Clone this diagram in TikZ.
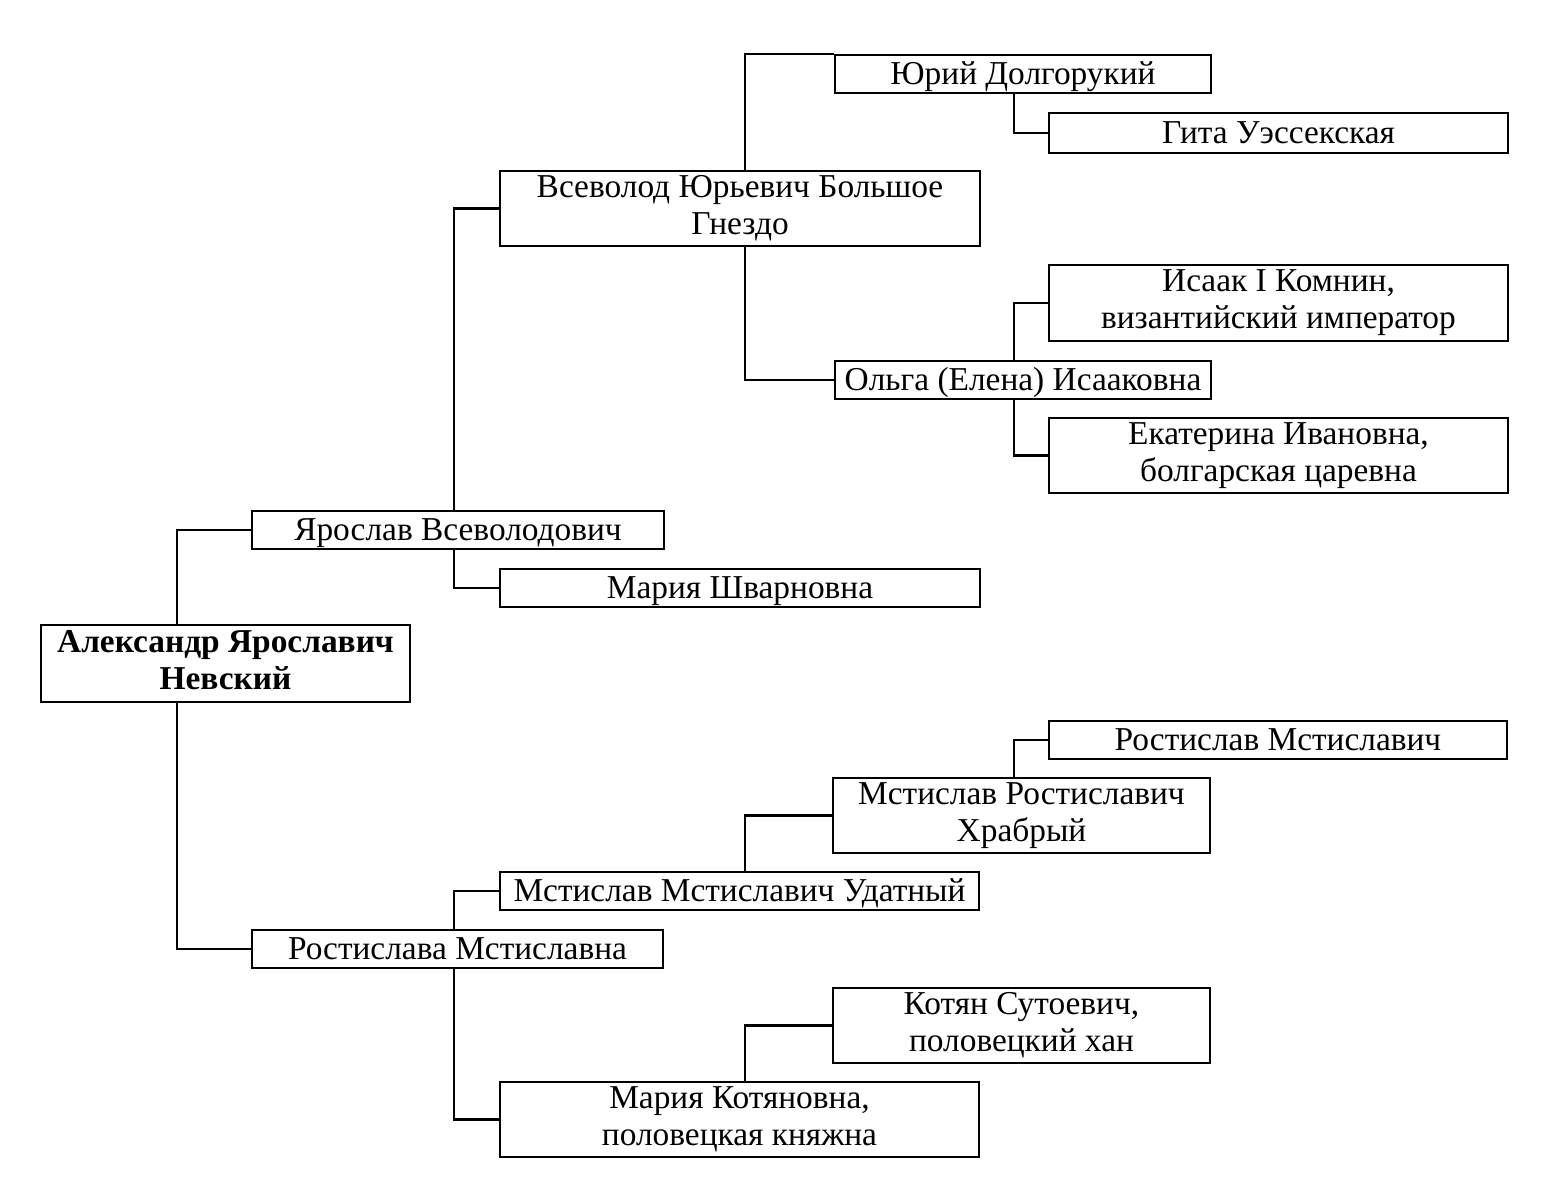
\documentclass[tikz,border=0pt]{standalone}
\usepackage{fontspec}
\setmainfont{Liberation Serif}

\tikzset{
  person/.style={draw, line width=1.3pt, inner sep=0pt, align=center,
    font=\fontsize{19}{21}\selectfont,
    execute at begin node={\rule{0pt}{16.7pt}},
    execute at end node={\rule[-4.2pt]{0pt}{0pt}}},
  link/.style={line width=1.3pt},
}

\NewDocumentCommand{\person}{O{}mmmmmm}{%
\node[person, #1, minimum width={#5*0.02cm}, minimum height={#6*0.02cm}] (#2) at (#3,#4) {#7};%
}

\begin{document}
\begin{tikzpicture}[x=0.02cm, y=-0.02cm]
        \useasboundingbox (0,0) rectangle (1553,1200);

        % Columns of the connectors.
        \coordinate (c0) at (177,0);
        \coordinate (c1) at (454,0);
        \coordinate (c2) at (745,0);
        \coordinate (c3) at (1014,0);

        % Alexander and his parents.
        \person[font=\fontsize{19}{21}\selectfont\bfseries]{alexander}{225.5}{663.5}{369}{77}{Александр Ярославич\\Невский}
        \person{yaroslav}{458}{530}{412}{38}{Ярослав Всеволодович}
        \person{rostislava}{457.5}{949}{411}{38}{Ростислава Мстиславна}

        % Father's side.
        \person{vsevolod}{740}{208.5}{480}{75}{Всеволод Юрьевич Большое\\Гнездо}
        \person{mariash}{740}{588}{480}{38}{Мария Шварновна}
        \person{yuri}{1023}{74}{376}{38}{Юрий Долгорукий}
        \person{olga}{1023}{380}{376}{38}{Ольга (Елена) Исааковна}
        \person{gita}{1278.5}{133}{459}{40}{Гита Уэссекская}
        \person{isaak}{1278.5}{303}{459}{76}{Исаак I Комнин,\\византийский император}
        \person{ekaterina}{1278.5}{455.5}{459}{75}{Екатерина Ивановна,\\болгарская царевна}

        % Mother's side.
        \person{udatny}{739.5}{891}{479}{38}{Мстислав Мстиславич Удатный}
        \person{mariak}{739.5}{1119.5}{479}{75}{Мария Котяновна,\\половецкая княжна}
        \person{mstislavr}{1021.5}{815.5}{377}{75}{Мстислав Ростиславич\\Храбрый}
        \person{kotyan}{1021.5}{1025.5}{377}{75}{Котян Сутоевич,\\половецкий хан}
        \person{rostislav}{1278}{740}{458}{38}{Ростислав Мстиславич}

        % Connectors.
        \draw[link] (alexander.north -| c0) |- (yaroslav.west);
        \draw[link] (alexander.south -| c0) |- (rostislava.west);
        \draw[link] (yaroslav.north -| c1) |- (vsevolod.west);
        \draw[link] (yaroslav.south -| c1) |- (mariash.west);
        \draw[link] (vsevolod.north -| c2) |- (yuri.north west);
        \draw[link] (vsevolod.south -| c2) |- (olga.west);
        \draw[link] (yuri.south -| c3) |- (gita.west);
        \draw[link] (olga.north -| c3) |- (isaak.west);
        \draw[link] (olga.south -| c3) |- (ekaterina.west);
        \draw[link] (rostislava.north -| c1) |- (udatny.west);
        \draw[link] (rostislava.south -| c1) |- (mariak.west);
        \draw[link] (udatny.north -| c2) |- (mstislavr.west);
        \draw[link] (mariak.north -| c2) |- (kotyan.west);
        \draw[link] (mstislavr.north -| c3) |- (rostislav.west);
    \end{tikzpicture}
\end{document}
